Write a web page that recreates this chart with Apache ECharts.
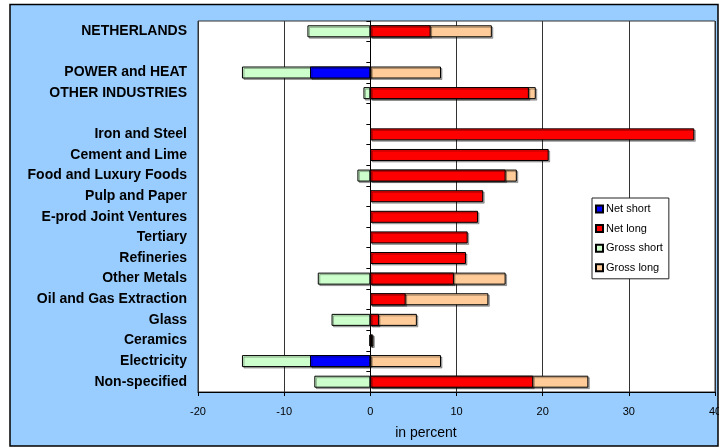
<!DOCTYPE html>
<html>
<head>
<meta charset="utf-8">
<script src="https://cdn.jsdelivr.net/npm/echarts@6/dist/echarts.min.js"></script>
<style>
  html, body { margin: 0; padding: 0; background: #fff; }
  #chart { width: 719px; height: 448px; }
</style>
</head>
<body>
<div id="chart"></div>
<script>
// rows top to bottom, blank rows separate the groups
var categories = ['NETHERLANDS', '', 'POWER and HEAT', 'OTHER INDUSTRIES', ' ',
  'Iron and Steel', 'Cement and Lime', 'Food and Luxury Foods', 'Pulp and Paper',
  'E-prod Joint Ventures', 'Tertiary', 'Refineries', 'Other Metals',
  'Oil and Gas Extraction', 'Glass', 'Ceramics', 'Electricity', 'Non-specified'];

var netShort   = [null, null, -7.0, null, null, null, null, null, null, null, null, null, null, null, null, null, -7.0, null];
var netLong    = [7.0, null, null, 18.4, null, 37.6, 20.7, 15.7, 13.1, 12.5, 11.3, 11.1, 9.7, 4.1, 1.0, 0.2, null, 18.9];
var grossShort = [-7.3, null, -14.9, -0.8, null, null, null, -1.5, null, null, null, null, -6.1, null, -4.5, -0.1, -14.9, -6.5];
var grossLong  = [14.1, null, 8.2, 19.2, null, null, null, 17.0, null, null, null, null, 15.7, 13.7, 5.4, 0.35, 8.2, 25.3];

var xTicks = { min: -20, max: 40, step: 10 };

function barStyle(c) {
  return {
    color: c,
    borderColor: '#000',
    borderWidth: 1,
    shadowColor: 'rgba(0,0,0,0.3)',
    shadowOffsetX: 1.5,
    shadowOffsetY: 1.5
  };
}

function mkBar(name, data, color) {
  return {
    name: name,
    type: 'bar',
    yAxisIndex: 0,
    data: data,
    barWidth: 12,
    barGap: '-100%',
    itemStyle: barStyle(color),
    emphasis: { disabled: true },
    animation: false
  };
}

var chart = echarts.init(document.getElementById('chart'));
chart.setOption({
  backgroundColor: '#fff',
  animation: false,
  graphic: [{
    type: 'rect',
    z: -100,
    shape: { x: 10, y: 4.5, width: 708, height: 441.5 },
    style: { fill: '#99CCFF', stroke: '#000', lineWidth: 1.5 }
  }],
  grid: {
    left: 198, top: 21, right: 4, bottom: 56,
    outerBoundsMode: 'none',
    containLabel: false,
    show: true,
    backgroundColor: '#fff',
    borderColor: '#333',
    borderWidth: 1
  },
  legend: {
    data: ['Net short', 'Net long', 'Gross short', 'Gross long'],
    orient: 'vertical',
    left: 592, top: 198,
    backgroundColor: '#fff',
    borderColor: '#222',
    borderWidth: 1,
    padding: [5, 6, 5, 3],
    itemWidth: 7, itemHeight: 7,
    itemGap: 7.6,
    icon: 'rect',
    itemStyle: { shadowColor: 'transparent', shadowOffsetX: 0, shadowOffsetY: 0 },
    textStyle: { color: '#000', fontSize: 11, fontFamily: 'Liberation Sans', lineHeight: 12, padding: [0, 0, 0, -2] }
  },
  xAxis: {
    type: 'value',
    min: xTicks.min, max: xTicks.max, interval: xTicks.step,
    name: 'in percent',
    nameLocation: 'middle',
    nameGap: 34,
    nameTextStyle: { color: '#000', fontSize: 14, fontFamily: 'Liberation Sans', padding: [0, 61, 0, 0] },
    axisLine: { show: true, onZero: false, lineStyle: { color: '#000', width: 1 } },
    axisTick: { show: true, length: 4, lineStyle: { color: '#000' } },
    axisLabel: { color: '#000', fontSize: 11, fontFamily: 'Liberation Sans', margin: 14 },
    splitLine: { show: true, lineStyle: { color: '#333', width: 1 } }
  },
  yAxis: [{
    type: 'category',
    data: categories,
    inverse: true,
    position: 'left',
    axisLine: { show: false, onZero: false },
    axisTick: { show: false },
    axisLabel: { color: '#000', fontSize: 14, fontWeight: 'bold', fontFamily: 'Liberation Sans', margin: 11, interval: 0 },
    splitLine: { show: false }
  }, {
    type: 'category',
    data: categories,
    inverse: true,
    position: 'left',
    axisLine: { show: true, onZero: true, lineStyle: { color: '#000', width: 1 } },
    axisTick: { show: true, length: 4, lineStyle: { color: '#000' } },
    axisLabel: { show: false },
    splitLine: { show: false }
  }],
  series: [
    mkBar('Gross short', grossShort, '#CCFFCC'),
    mkBar('Gross long', grossLong, '#FFCC99'),
    mkBar('Net short', netShort, '#0000FF'),
    mkBar('Net long', netLong, '#FF0000')
  ]
});
</script>
</body>
</html>
